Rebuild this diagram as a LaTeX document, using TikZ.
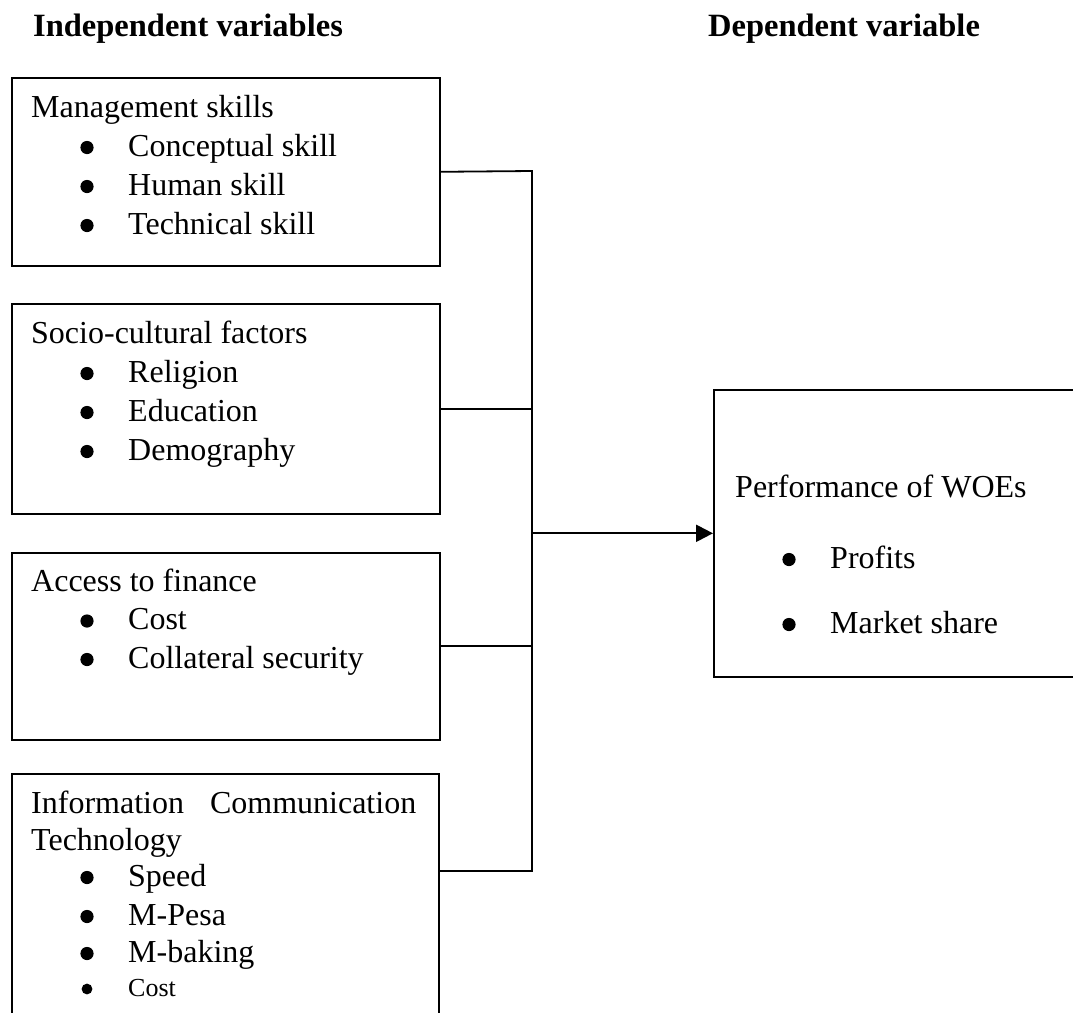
\documentclass[tikz,border=0pt]{standalone}
\usepackage{fontspec}
\setmainfont{Liberation Serif}
\usetikzlibrary{arrows.meta}
\tikzset{
	varbox/.style={draw, line width=1.6pt, anchor=north west, inner sep=0pt},
	boxtext/.style={anchor=base west, inner sep=0pt, font=\fontsize{32}{38}\selectfont},
	smalltext/.style={anchor=base west, inner sep=0pt, font=\fontsize{26}{30}\selectfont},
	headtext/.style={anchor=base west, inner sep=0pt, font=\fontsize{32.5}{38}\selectfont\bfseries},
	link/.style={line width=1.8pt},
	arrowlink/.style={line width=2.2pt, -{Triangle[length=17pt,width=17pt]}}
}
% bullet in front of a list item node
\newcommand{\itemdot}[2][6.6pt]{\fill ([xshift=-41pt,yshift=8.5pt]#2.base west) circle (#1);}

\begin{document}
\begin{tikzpicture}[x=1pt,y=-1pt]
			%%%%% START %%%%%
			\useasboundingbox (0,0) rectangle (1073,1012);
			
			\node[headtext] (indep) at (33,36) {Independent variables};
			\node[headtext] (dep) at (708,36) {Dependent variable};
			
			% independent variable boxes
			\node[varbox, minimum width=428pt, minimum height=188pt] (mgmt) at (11,77) {};
			\node[boxtext] (mgmtT) at (31,117) {Management skills};
			\foreach \t [count=\i] in {Conceptual skill, Human skill, Technical skill} {
				\node[boxtext] (mgmt\i) at (128,{117+39*\i}) {\t};
				\itemdot{mgmt\i}
			}
			
			\node[varbox, minimum width=428pt, minimum height=210pt] (soc) at (11,303) {};
			\node[boxtext] (socT) at (31,343) {Socio-cultural factors};
			\foreach \t [count=\i] in {Religion, Education, Demography} {
				\node[boxtext] (soc\i) at (128,{343+39*\i}) {\t};
				\itemdot{soc\i}
			}
			
			\node[varbox, minimum width=428pt, minimum height=187pt] (fin) at (11,552) {};
			\node[boxtext] (finT) at (31,591) {Access to finance};
			\foreach \t [count=\i] in {Cost, Collateral security} {
				\node[boxtext] (fin\i) at (128,{591+38.5*\i}) {\t};
				\itemdot{fin\i}
			}
			
			\node[varbox, minimum width=427pt, minimum height=250pt] (ict) at (11,773) {};
			\node[boxtext] (ictT) at (31,813) {\makebox[385pt]{Information\hfill Communication}};
			\node[boxtext] (ictU) at (31,850) {Technology};
			\node[boxtext] (ict1) at (128,886) {Speed};
			\node[boxtext] (ict2) at (128,925) {M-Pesa};
			\node[boxtext] (ict3) at (128,962) {M-baking};
			\node[smalltext] (ict4) at (128,996) {Cost};
			\foreach \n in {ict1,ict2,ict3} {\itemdot{\n}}
			\fill ([xshift=-41pt,yshift=7pt]ict4.base west) circle (5.4pt);
			
			% dependent variable box
			\node[varbox, minimum width=362pt, minimum height=287pt] (perf) at (713,389) {};
			\node[boxtext] (perfT) at (735,497) {Performance of WOEs};
			\node[boxtext] (perf1) at (830,568) {Profits};
			\node[boxtext] (perf2) at (830,633) {Market share};
			\itemdot{perf1}
			\itemdot{perf2}
			
			% connectors
			\coordinate (bustop) at (532,171);
			\coordinate (busbot) at (532,871);
			\draw[link] (mgmt.east) -- (bustop) -- (busbot) -- (busbot -| ict.east);
			\draw[link] (soc.east) -- (soc.east -| bustop);
			\draw[link] (fin.east) -- (fin.east -| bustop);
			\draw[arrowlink] (perf.west -| bustop) -- (perf.west);
			%%%%% END %%%%%
\end{tikzpicture}
\end{document}
